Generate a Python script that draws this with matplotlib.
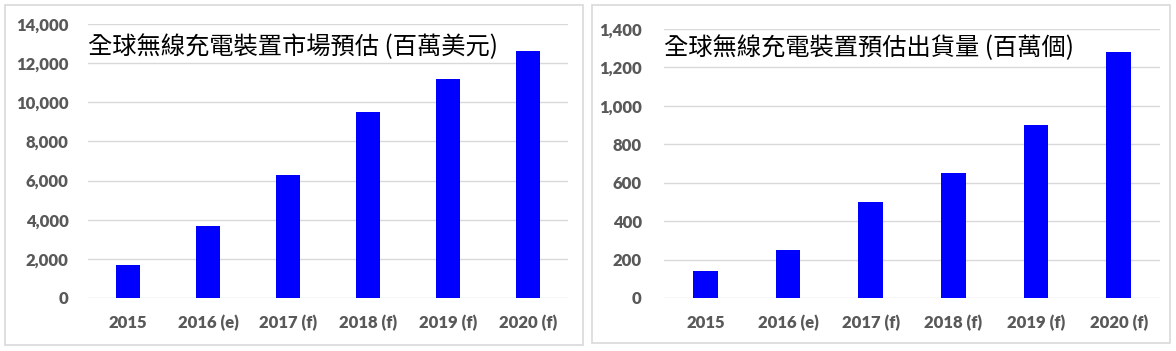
import matplotlib
matplotlib.use("Agg")
import matplotlib.pyplot as plt
from matplotlib.patches import Rectangle
from matplotlib.ticker import FuncFormatter

categories = ["2015", "2016 (e)", "2017 (f)", "2018 (f)", "2019 (f)", "2020 (f)"]
market_values = [1700, 3700, 6300, 9500, 11200, 12600]
shipment_values = [140, 250, 500, 650, 900, 1280]
market_title = "全球無線充電裝置市場預估 (百萬美元)"
shipment_title = "全球無線充電裝置預估出貨量 (百萬個)"

W, H = 1176, 351
fig = plt.figure(figsize=(W / 100, H / 100), dpi=100)
fig.patch.set_facecolor("white")

cjk = ["Noto Sans CJK TC", "DejaVu Sans"]
tick_color = "#595959"
grid_color = "#D9D9D9"


def px_axes(x0, y0, x1, y1):
    return fig.add_axes([x0 / W, 1 - y1 / H, (x1 - x0) / W, (y1 - y0) / H])


def panel(x0, y0, x1, y1):
    fig.patches.append(Rectangle((x0 / W, 1 - y1 / H), (x1 - x0) / W, (y1 - y0) / H,
                                 transform=fig.transFigure, fill=False,
                                 edgecolor=grid_color, linewidth=1.2))


def draw(ax, values, ymax, step, title, ypad, ty):
    x = range(len(categories))
    ax.bar(x, values, width=0.3, color="#0000FF", zorder=3)
    ax.set_xlim(-0.5, len(categories) - 0.5)
    ax.set_ylim(0, ymax)
    ax.set_yticks(range(0, ymax + 1, step))
    ax.yaxis.set_major_formatter(FuncFormatter(lambda v, p: f"{int(v):,}"))
    ax.set_xticks(list(x))
    ax.set_xticklabels(categories)
    ax.grid(axis="y", color=grid_color, linewidth=1, zorder=0)
    for s in ax.spines.values():
        s.set_visible(False)
    ax.tick_params(axis="both", length=0, colors=tick_color, labelsize=12)
    ax.tick_params(axis="x", pad=12)
    ax.tick_params(axis="y", pad=ypad)
    for lab in ax.get_xticklabels() + ax.get_yticklabels():
        lab.set_fontfamily("Lato")
        lab.set_fontweight("heavy")
    ax.text(0.0, ty, title, transform=ax.transAxes, fontsize=17.5,
            family=cjk, color="black", va="center", ha="left")


panel(5, 5, 583, 345)
panel(592, 5, 1170, 343)

ax1 = px_axes(88, 24, 568, 298)
draw(ax1, market_values, 14000, 2000, market_title, 14, 0.915)

ax2 = px_axes(664, 29, 1160, 298)
draw(ax2, shipment_values, 1400, 200, shipment_title, 16, 0.93)

fig.savefig("out.png", dpi=100, facecolor="white")
